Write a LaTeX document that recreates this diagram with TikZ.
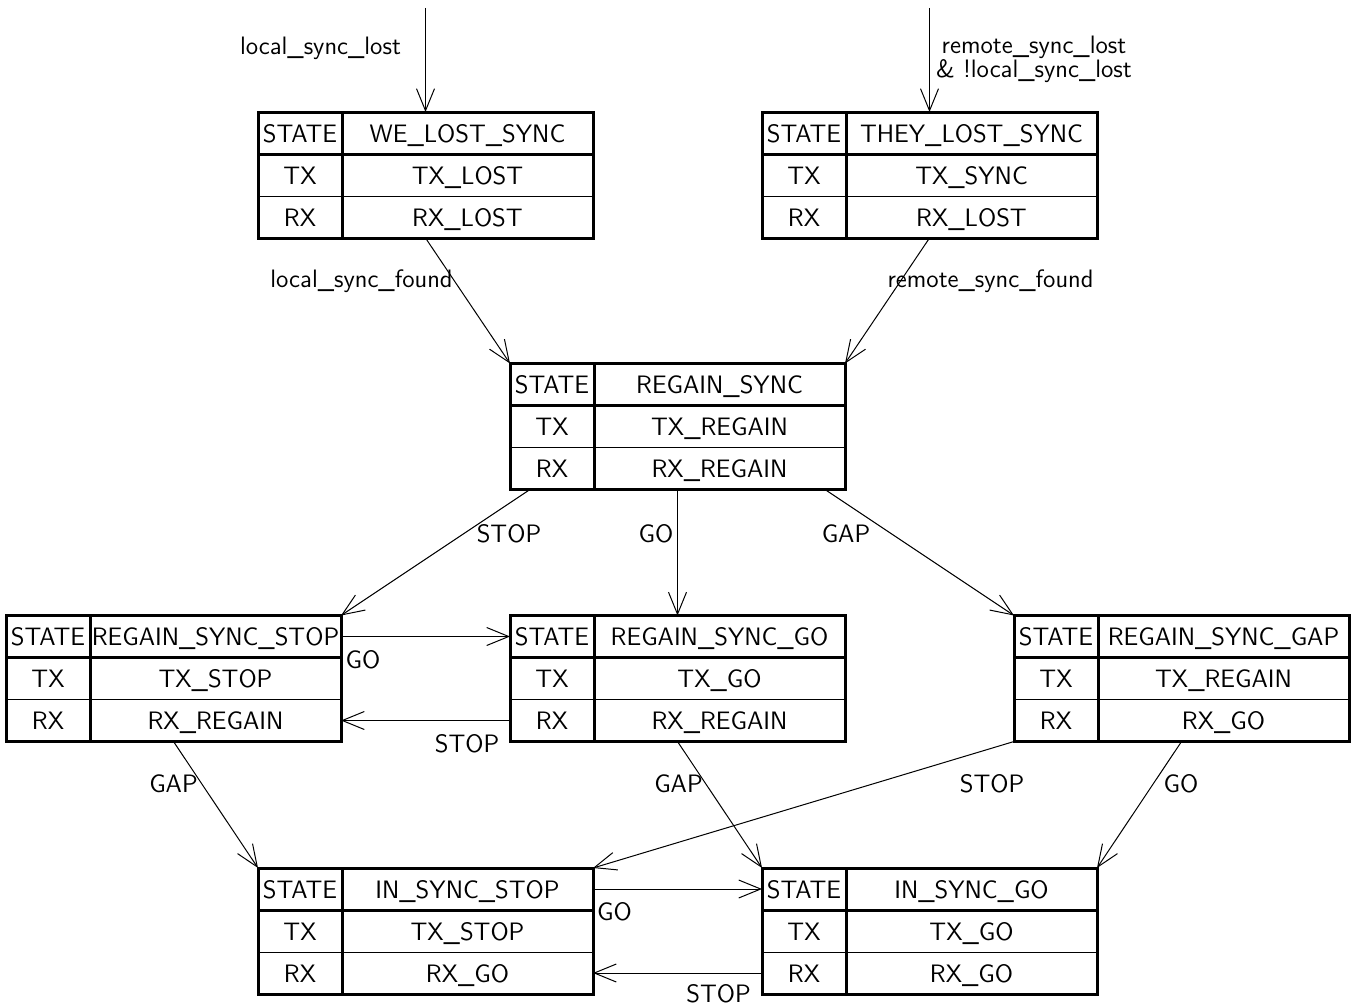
\documentclass[tikz,border=0pt]{standalone}
\usepackage{tikz}
\usetikzlibrary{arrows.meta,positioning}

\newcommand{\tblfont}{\sffamily\fontsize{12.6}{15}\selectfont}
% one state table: name, centre, state, tx, rx
\newcommand{\statetable}[5]{%
  \begin{scope}[shift={(#2)}]
    \node[tblframe] (#1) at (0,0) {};
    \draw[rowrule] (-167.5,-21) -- (167.5,-21);
    \draw[subrule] (-167.5,21) -- (167.5,21);
    \draw[rowrule] (-83.5,-63) -- (-83.5,63);
    \node[cell] (#1-key) at (-125.5,-33) {STATE};
    \node[cell] (#1-state) at (42,-33) {#3};
    \node[cell] (#1-txkey) at (-125.5,9) {TX};
    \node[cell] (#1-tx) at (42,9) {#4};
    \node[cell] (#1-rxkey) at (-125.5,51) {RX};
    \node[cell] (#1-rx) at (42,51) {#5};
  \end{scope}}

\begin{document}
\begin{tikzpicture}[
  x=0.5pt,y=-0.5pt,
  tblframe/.style={draw,line width=1.5pt,minimum width=167.5pt,minimum height=63pt,inner sep=0,outer sep=0},
  rowrule/.style={line width=1.5pt},
  subrule/.style={line width=0.5pt},
  cell/.style={inner sep=0,anchor=base,font=\tblfont},
  lbl/.style={inner sep=0,anchor=base,font=\tblfont},
  arrow/.style={-{Straight Barb[length=11pt,width=9pt]},line width=0.5pt}
]
\useasboundingbox (0,0) rectangle (1352,1006);

\statetable{wls}{425.5,175}{WE\_LOST\_SYNC}{TX\_LOST}{RX\_LOST}
\statetable{tls}{929.5,175}{THEY\_LOST\_SYNC}{TX\_SYNC}{RX\_LOST}
\statetable{rs}{677.5,426.5}{REGAIN\_SYNC}{TX\_REGAIN}{RX\_REGAIN}
\statetable{rss}{173.5,678.5}{REGAIN\_SYNC\_STOP}{TX\_STOP}{RX\_REGAIN}
\statetable{rsg}{677.5,678.5}{REGAIN\_SYNC\_GO}{TX\_GO}{RX\_REGAIN}
\statetable{rsgap}{1181.5,678.5}{REGAIN\_SYNC\_GAP}{TX\_REGAIN}{RX\_GO}
\statetable{iss}{425.5,931}{IN\_SYNC\_STOP}{TX\_STOP}{RX\_GO}
\statetable{isg}{929.5,931}{IN\_SYNC\_GO}{TX\_GO}{RX\_GO}

% entry points
\coordinate (wlsin) at (425.5,8);
\coordinate (tlsin) at (929.5,8);

% transitions
\draw[arrow] (wlsin) -- (wls.north);
\draw[arrow] (tlsin) -- (tls.north);
\draw[arrow] (wls.south) -- (rs.north west);
\draw[arrow] (tls.south) -- (rs.north east);
\draw[arrow] ([xshift=10pt]rs.south west) -- (rss.north east);
\draw[arrow] (rs.south) -- (rsg.north);
\draw[arrow] ([xshift=-10pt]rs.south east) -- (rsgap.north west);
\draw[arrow] ([yshift=-10.5pt]rss.north east) -- ([yshift=-10.5pt]rsg.north west);
\draw[arrow] ([yshift=10.5pt]rsg.south west) -- ([yshift=10.5pt]rss.south east);
\draw[arrow] (rss.south) -- (iss.north west);
\draw[arrow] (rsg.south) -- (isg.north west);
\draw[arrow] (rsgap.south west) -- (iss.north east);
\draw[arrow] (rsgap.south) -- (isg.north east);
\draw[arrow] ([yshift=-10.5pt]iss.north east) -- ([yshift=-10.5pt]isg.north west);
\draw[arrow] ([yshift=10.5pt]isg.south west) -- ([yshift=10.5pt]iss.south east);

% conditions
\node[lbl] (lost-l) at (320.5,55) {local\_sync\_lost};
\node[lbl] (lost-r) at (1034,54) {remote\_sync\_lost};
\node[lbl] (lost-r2) at (1034,78) {\& !local\_sync\_lost};
\node[lbl] (found-l) at (361.5,287) {local\_sync\_found};
\node[lbl] (found-r) at (990.5,287) {remote\_sync\_found};
\node[lbl] (rs-stop) at (509,542) {STOP};
\node[lbl] (rs-go) at (656,542) {GO};
\node[lbl] (rs-gap) at (846,542) {GAP};
\node[lbl] (rss-go) at (363,668) {GO};
\node[lbl] (rsg-stop) at (467,752) {STOP};
\node[lbl] (rss-gap) at (173.5,792) {GAP};
\node[lbl] (rsg-gap) at (678.5,792) {GAP};
\node[lbl] (rsgap-stop) at (992,792) {STOP};
\node[lbl] (rsgap-go) at (1181,792) {GO};
\node[lbl] (iss-go) at (614.5,920) {GO};
\node[lbl] (isg-stop) at (718.5,1002) {STOP};
\end{tikzpicture}
\end{document}
